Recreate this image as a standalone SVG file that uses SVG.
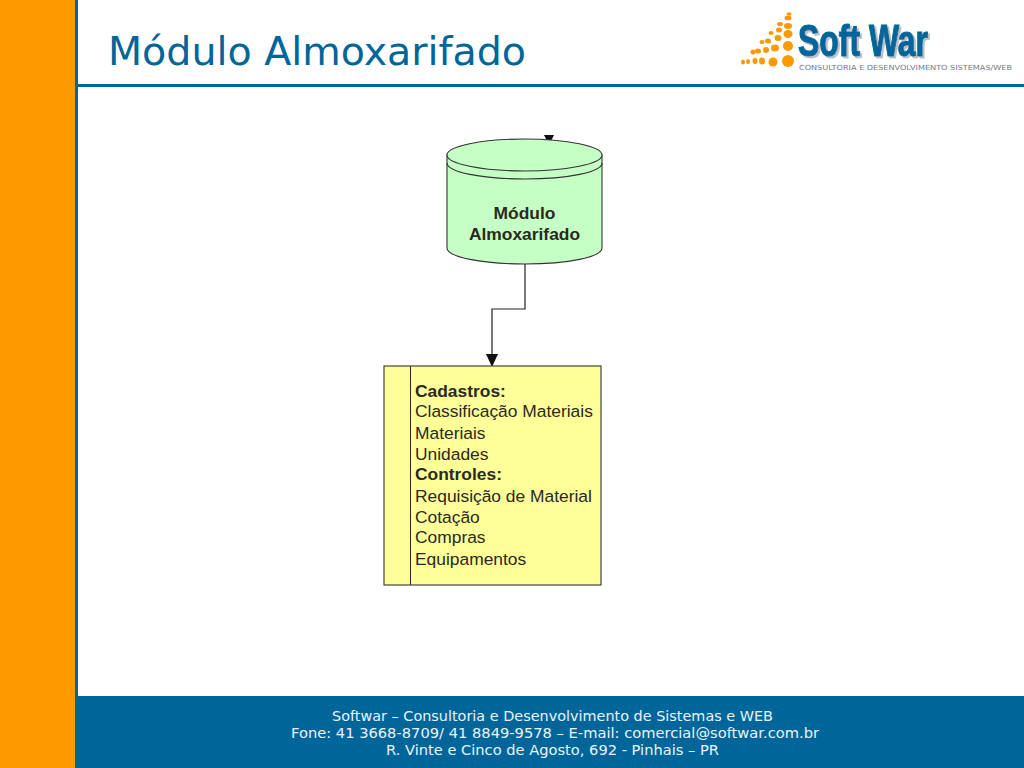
<svg xmlns="http://www.w3.org/2000/svg" width="1024" height="768" viewBox="0 0 1024 768">
<defs>
<filter id="logoShadow" x="-5%" y="-5%" width="112%" height="115%"><feDropShadow dx="2" dy="2" stdDeviation="0.6" flood-color="#b8c2cc"/></filter>
</defs>
<style>
.s{font-family:"DejaVu Sans",Verdana,sans-serif}
.a{font-family:"Liberation Sans",Arial,sans-serif;font-size:17.4px;fill:#2a2a20}
.b{font-weight:bold}
.f{font-size:14.5px;fill:#e8f4fc;text-anchor:middle}
.o{fill:#f90}
.w{font-family:"Liberation Sans",Arial,sans-serif;font-weight:bold;font-size:44px}
.line{fill:none;stroke:#222;stroke-width:1.2}
</style>
<rect width="1024" height="768" fill="#fff"/>
<g id="frame">
<rect x="0" y="0" width="75" height="768" fill="#f90"/>
<rect x="75" y="0" width="3" height="768" fill="#069"/>
<rect x="78" y="84" width="946" height="3" fill="#069"/>
<rect x="75" y="696" width="949" height="72" fill="#069"/>
</g>
<text id="title" class="s" x="108" y="65" font-size="39" fill="#069" textLength="418" lengthAdjust="spacingAndGlyphs">Módulo Almoxarifado</text>
<g id="logo">
<g class="o">
<ellipse cx="788" cy="61" rx="6" ry="6"/><ellipse cx="773" cy="62" rx="4.500" ry="4.500"/>
<ellipse cx="762" cy="61" rx="3" ry="3.500"/><ellipse cx="755" cy="61" rx="2.500" ry="3"/><ellipse cx="748" cy="61.500" rx="2" ry="2.500"/><ellipse cx="743" cy="62" rx="2" ry="2.500"/>
<ellipse cx="788" cy="46" rx="5" ry="5"/><ellipse cx="775" cy="48" rx="4" ry="3.500"/><ellipse cx="766" cy="50" rx="3" ry="3"/><ellipse cx="758" cy="51" rx="3" ry="2.500"/><ellipse cx="753" cy="52" rx="2.500" ry="2.500"/>
<ellipse cx="788" cy="34" rx="4.500" ry="4"/><ellipse cx="778" cy="38" rx="3.500" ry="3"/><ellipse cx="768" cy="41" rx="3" ry="2.500"/><ellipse cx="762" cy="42" rx="2.500" ry="2"/>
<ellipse cx="788" cy="26" rx="4" ry="3"/><ellipse cx="779" cy="30" rx="3" ry="2.500"/><ellipse cx="771" cy="33" rx="2.500" ry="2"/>
<ellipse cx="788" cy="18" rx="3.500" ry="2.500"/><ellipse cx="780" cy="24" rx="3" ry="2"/><ellipse cx="789" cy="14" rx="2.500" ry="1.800"/>
</g>
<text class="w" x="798" y="56" fill="#069" stroke="#069" stroke-width="1.2" textLength="130" lengthAdjust="spacingAndGlyphs" filter="url(#logoShadow)">Soft War</text>
<text x="799" y="69.500" font-family="'DejaVu Sans',sans-serif" font-size="7" fill="#778" textLength="213" lengthAdjust="spacingAndGlyphs">CONSULTORIA E DESENVOLVIMENTO SISTEMAS/WEB</text>
</g>
<g id="connectors">
<path class="line" d="M525 264V309H492V355"/>
<path d="M486 354H498L492 367Z" fill="#111"/>
<path d="M544 135H554L549 145Z" fill="#111"/>
</g>
<g id="cylinder">
<path d="M447 155V248C447 257 482 264 525 264C568 264 602 257 602 248V155Z" fill="#c6ffc6" stroke="#333" stroke-width="1.1"/>
<path d="M447 163C447 172 482 179 525 179C568 179 602 172 602 163" fill="none" stroke="#333" stroke-width="1.1"/>
<ellipse cx="524.500" cy="155" rx="77.500" ry="16" fill="#c6ffc6" stroke="#333" stroke-width="1.1"/>
<text class="a b" x="524.500" y="219" text-anchor="middle">Módulo</text>
<text class="a b" x="524.500" y="240" text-anchor="middle">Almoxarifado</text>
</g>
<g id="list">
<rect x="384" y="366" width="217" height="219" fill="#ffff99" stroke="#333" stroke-width="1.1"/>
<path d="M410.500 366V585" stroke="#333" stroke-width="1.1"/>
<text class="a b" x="415" y="397">Cadastros:</text>
<text class="a" x="415" y="417">Classificação Materiais</text>
<text class="a" x="415" y="439">Materiais</text>
<text class="a" x="415" y="460">Unidades</text>
<text class="a b" x="415" y="480">Controles:</text>
<text class="a" x="415" y="502">Requisição de Material</text>
<text class="a" x="415" y="523">Cotação</text>
<text class="a" x="415" y="543">Compras</text>
<text class="a" x="415" y="565">Equipamentos</text>
</g>
<g id="footer">
<text class="s f" x="552.500" y="721" textLength="441" lengthAdjust="spacingAndGlyphs">Softwar – Consultoria e Desenvolvimento de Sistemas e WEB</text>
<text class="s f" x="555" y="738" textLength="528" lengthAdjust="spacingAndGlyphs">Fone: 41 3668-8709/ 41 8849-9578 – E-mail: comercial@softwar.com.br</text>
<text class="s f" x="552.500" y="755" textLength="333" lengthAdjust="spacingAndGlyphs">R. Vinte e Cinco de Agosto, 692 - Pinhais – PR</text>
</g>
</svg>
